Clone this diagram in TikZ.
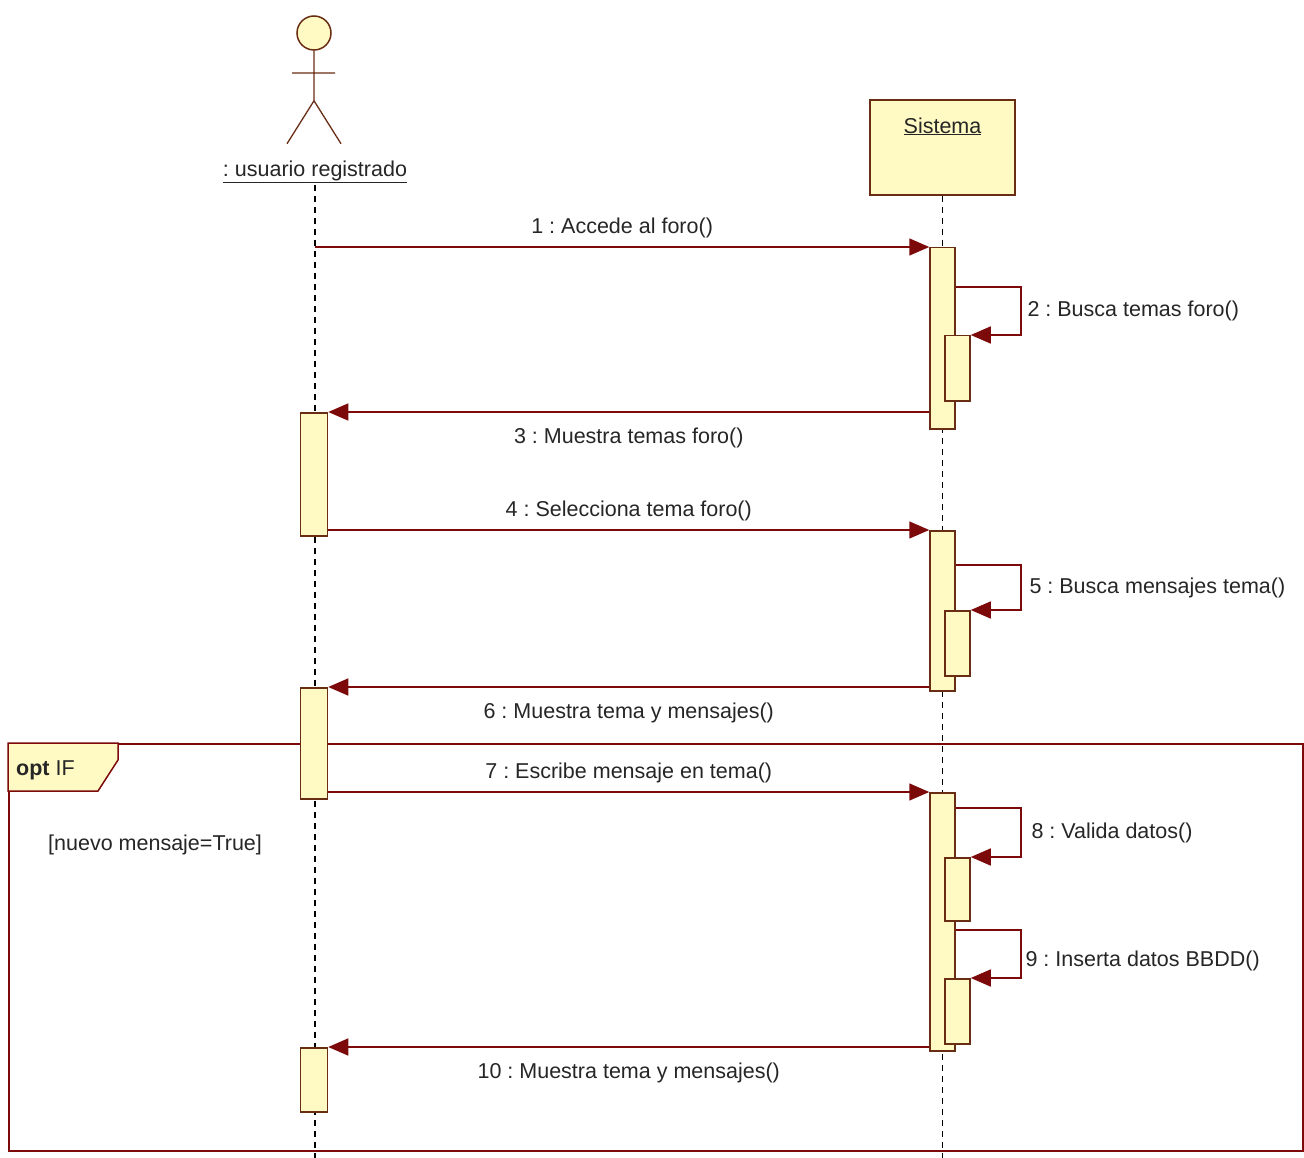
\documentclass[tikz,border=0pt]{standalone}
\usepackage{fontspec}
\setmainfont{Liberation Sans}
\usetikzlibrary{positioning,shapes,arrows.meta}
\definecolor{umlfill}{RGB}{255,250,195}
\definecolor{umlline}{RGB}{105,45,20}
\definecolor{msgred}{RGB}{125,10,10}
\tikzstyle{actbar}=[
	rectangle,
	draw=umlline,
	fill=umlfill,
	line width=1.5pt,
	minimum width=25pt,
	inner sep=0pt,
	anchor=north
	]
\tikzstyle{msg}=[
	draw=msgred,
	line width=1.5pt,
	-{Triangle[length=20pt,width=17pt]}
	]
\tikzstyle{lifeline}=[
	draw=black,
	line width=1.2pt,
	dash pattern=on 6pt off 5pt
	]
\tikzset{msglabel/.style={text=black!85, inner sep=2pt}}
\frenchspacing

\begin{document}
\begin{tikzpicture}[x=1pt, y=-1pt, font=\fontsize{21.5}{25}\selectfont]

		\useasboundingbox[fill=white] (0,0) rectangle (1304,1158);

		% actor and object
		\node (actorhead) [circle, draw=umlline, fill=umlfill, line width=1.5pt, minimum size=34pt, inner sep=0pt] at (314,33) {};
		\draw[umlline, line width=1.3pt] (actorhead.south) -- ++(0,50) coordinate (hip)
			-- ++(-27,43) (hip) -- ++(27,43)
			(292,73) -- (335,73);
		\node (actlabel) [msglabel] at (315,172) {\underline{: usuario registrado}};

		\node (sistema) [rectangle, draw=umlline, fill=umlfill, line width=1.5pt, minimum width=145pt, minimum height=95pt,
			label={[msglabel, anchor=north, yshift=-16pt]north:\underline{Sistema}}] at (942.5,147.5) {};

		% lifelines
		\draw[lifeline] (actlabel.south) -- (actlabel.south |- 0,1158);
		\draw[lifeline] (sistema.south) -- (sistema.south |- 0,1158);

		% opt frame
		\node (optframe) [rectangle, draw=msgred, line width=1.5pt, minimum width=1294pt, minimum height=407pt, anchor=north west] at (8,743) {};
		\draw[draw=msgred, fill=umlfill, line width=1.5pt] (optframe.north west) -- ++(110,0) -- ++(0,17) -- ++(-20,31) -- ++(-90,0) -- cycle;
		\node (optname) [msglabel, anchor=west] at (14,770) {\textbf{opt} IF};
		\node (guard) [msglabel, anchor=west] at (46,845) {[nuevo mensaje=True]};

		% activations
		\node (sysA)  [actbar, minimum height=181pt] at (942.5,247) {};
		\node (sysAx) [actbar, minimum height=65pt]  at (957.5,335) {};
		\node (usrA)  [actbar, minimum height=123pt, minimum width=27pt] at (314,412) {};
		\node (sysB)  [actbar, minimum height=160pt] at (942.5,530) {};
		\node (sysBx) [actbar, minimum height=65pt]  at (957.5,610) {};
		\node (usrB)  [actbar, minimum height=111pt, minimum width=27pt] at (314,687) {};
		\node (sysC)  [actbar, minimum height=258pt] at (942.5,792) {};
		\node (sysCx) [actbar, minimum height=63pt]  at (957.5,857) {};
		\node (sysCy) [actbar, minimum height=65pt]  at (957.5,978) {};
		\node (usrC)  [actbar, minimum height=64pt, minimum width=27pt] at (314,1047) {};

		% messages
		\draw[msg] (actlabel.south |- sysA.north) -- node[msglabel, above=6pt] {1 : Accede al foro()} (sysA.north west);
		\draw[msg] ([yshift=-40pt]sysA.north east) -- ++(65,0) |- node[msglabel, pos=0.25, right=4pt] {2 : Busca temas foro()} (sysAx.north east);
		\draw[msg] (sysA.west |- usrA.north) -- node[msglabel, below=13pt] {3 : Muestra temas foro()} (usrA.north east);
		\draw[msg] (usrA.east |- sysB.north) -- node[msglabel, above=6pt] {4 : Selecciona tema foro()} (sysB.north west);
		\draw[msg] ([yshift=-35pt]sysB.north east) -- ++(65,0) |- node[msglabel, pos=0.25, right=6pt] {5 : Busca mensajes tema()} (sysBx.north east);
		\draw[msg] (sysB.west |- usrB.north) -- node[msglabel, below=13pt] {6 : Muestra tema y mensajes()} (usrB.north east);
		\draw[msg] (usrB.east |- sysC.north) -- node[msglabel, above=6pt] {7 : Escribe mensaje en tema()} (sysC.north west);
		\draw[msg] ([yshift=-16pt]sysC.north east) -- ++(65,0) |- node[msglabel, pos=0.25, right=8pt] {8 : Valida datos()} (sysCx.north east);
		\draw[msg] ([yshift=-138pt]sysC.north east) -- ++(65,0) |- node[msglabel, pos=0.32, right=2pt] {9 : Inserta datos BBDD()} (sysCy.north east);
		\draw[msg] (sysC.west |- usrC.north) -- node[msglabel, below=13pt] {10 : Muestra tema y mensajes()} (usrC.north east);

	\end{tikzpicture}
\end{document}
